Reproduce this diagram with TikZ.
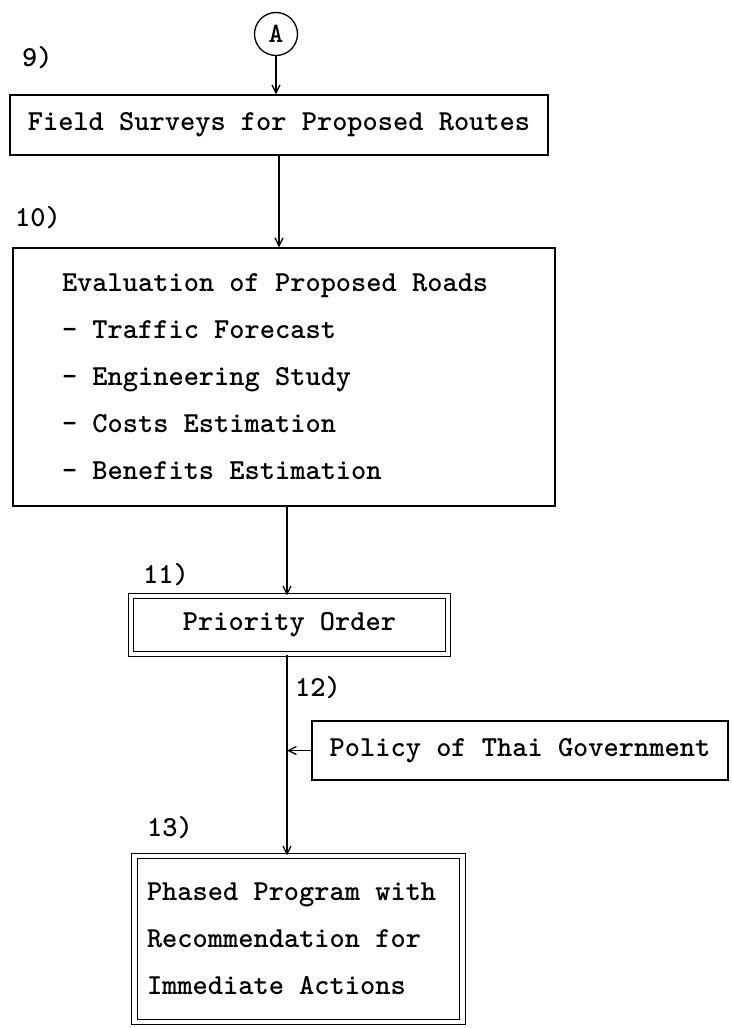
\documentclass[tikz,border=0pt]{standalone}
\usetikzlibrary{arrows.meta}
\begin{document}
\begin{tikzpicture}[x=1pt,y=-1pt,
  every node/.style={font=\ttfamily\bfseries\fontsize{29}{47}\selectfont,
    execute at begin node={\spaceskip=15.2pt\relax}},
  box/.style={draw, line width=1.3pt, rectangle, inner sep=0pt},
  dbox/.style={draw, rectangle, inner sep=0pt, double, double distance=4.5pt, line width=1.1pt},
  flow/.style={draw, line width=1.3pt, -{Straight Barb[length=8pt,width=8pt]}},
  num/.style={anchor=west, inner sep=0pt}]
\useasboundingbox (0,0) rectangle (731,1028);

% connector A and step labels
\node[circle, draw, line width=1.3pt, minimum size=43pt, inner sep=0pt,
      font=\ttfamily\bfseries\fontsize{28}{28}\selectfont] (A) at (276,34) {A};
\node[num] (n9)  at (22,58)   {9)};
\node[num] (n10) at (15,218)  {10)};
\node[num] (n11) at (143,575) {11)};
\node[num] (n12) at (295,688) {12)};
\node[num] (n13) at (147,828) {13)};

% steps
\node[box, minimum width=538pt, minimum height=60pt] (b9) at (279,125)
  {Field Surveys for Proposed Routes};
\node[box, minimum width=542pt, minimum height=258pt, text width=444pt, align=left] (b10) at (284,377)
  {Evaluation of Proposed Roads\\- Traffic Forecast\\- Engineering Study\\- Costs Estimation\\- Benefits Estimation};
\node[dbox, minimum width=317pt, minimum height=58pt] (pri) at (289.5,625)
  {Priority Order};
\node[box, minimum width=416pt, minimum height=59pt] (pol) at (520,750.5)
  {Policy of Thai Government};
\node[dbox, minimum width=328pt, minimum height=166pt, text width=303pt, align=left] (b13) at (298.5,939)
  {Phased Program with\\Recommendation for\\Immediate Actions};

% flow line
\coordinate (spine) at (287,0);
\draw[flow] (A.south) -- (A.south |- b9.north);
\draw[flow] (b9.south) -- (b9.south |- b10.north);
\draw[flow] (b10.south -| spine) -- (pri.north -| spine);
\draw[flow] (pri.south -| spine) -- (b13.north -| spine);
\draw[flow] (pol.west) -- (pol.west -| spine);
\end{tikzpicture}
\end{document}
